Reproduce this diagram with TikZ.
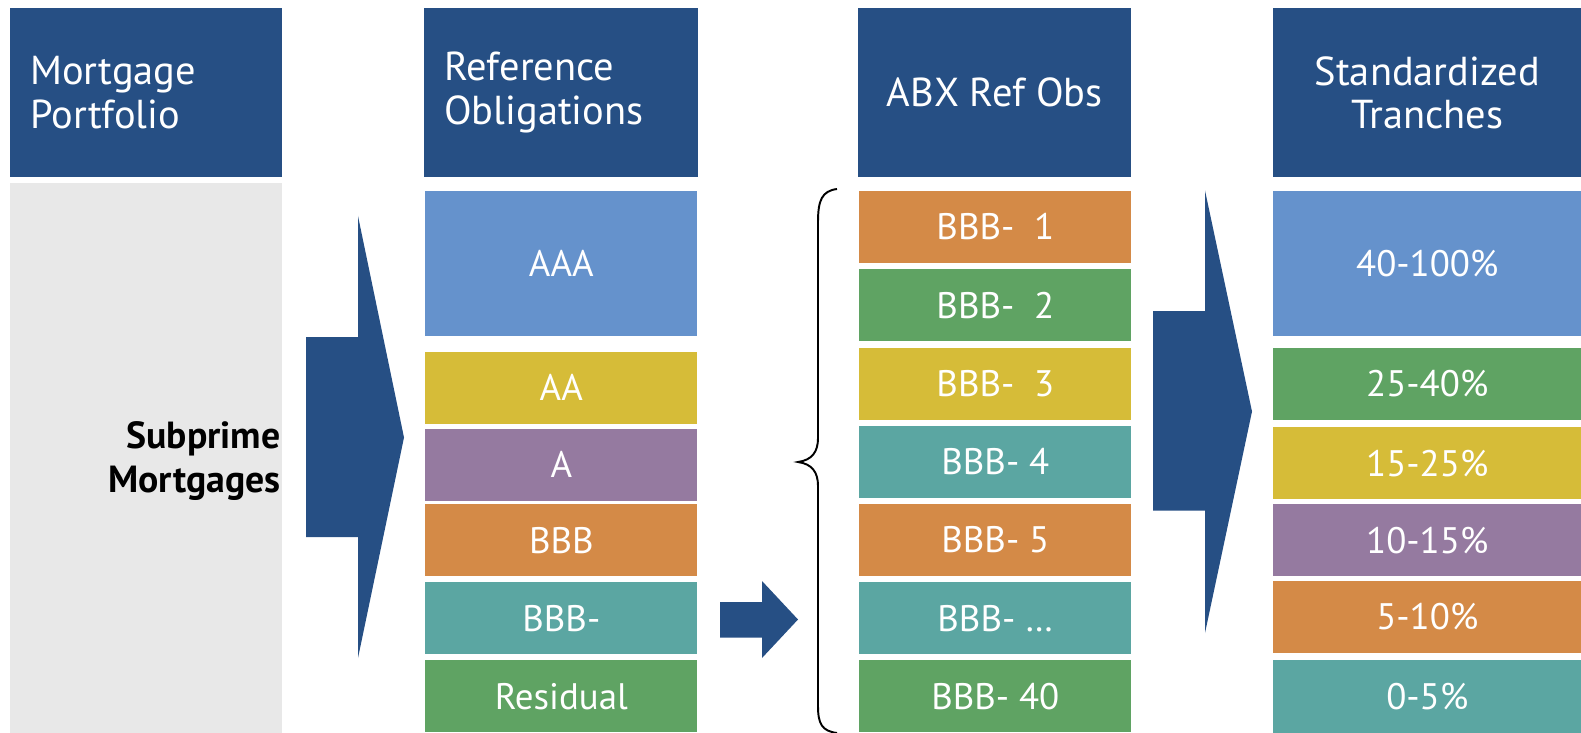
\documentclass[tikz,border=0pt]{standalone}
\usepackage{fontspec}
\setmainfont{PT Sans}
\definecolor{hdrblue}{RGB}{38,79,132}
\definecolor{poolgray}{RGB}{232,232,232}
\definecolor{aaablue}{RGB}{101,146,204}
\definecolor{aayellow}{RGB}{214,188,56}
\definecolor{apurple}{RGB}{149,122,160}
\definecolor{bbborange}{RGB}{212,138,71}
\definecolor{bbbteal}{RGB}{91,166,162}
\definecolor{resgreen}{RGB}{95,163,99}
\begin{document}
\begin{tikzpicture}[x=0.02cm, y=-0.02cm,
    head node/.style={rectangle, fill=hdrblue, text=white, anchor=north west, inner sep=0pt, minimum height=3.38cm, font=\fontsize{23}{25}\selectfont},
    tier node/.style={rectangle, text=white, anchor=north west, inner sep=0pt, minimum width=5.44cm, minimum height=1.44cm},
    wide tier/.style={tier node, minimum width=6.16cm}]
        \tikzstyle{every node}=[font=\fontsize{21}{25}\selectfont]
        \useasboundingbox (0,0) rectangle (1581,733);

          \node[head node, text width=4.64cm, inner xsep=0.4cm, align=left] (portfolio) at (10,8) {Mortgage\\Portfolio};
          \node[head node, text width=4.68cm, inner xsep=0.4cm, align=left] (refobs) at (424,8) {Reference\\Obligations};
          \node[head node, minimum width=5.46cm, align=center] (abx) at (858,8) {ABX Ref Obs};
          \node[head node, minimum width=6.16cm, align=center] (tranches) at (1273,8) {Standardized\\Tranches};

          \node[fill=poolgray, anchor=north west, inner sep=0pt, minimum width=5.44cm, minimum height=11cm] (pool) at (10,183) {};
          \node[anchor=east, align=right, inner sep=1pt, font=\fontsize{21.5}{25}\selectfont\bfseries] (subprime) at ([yshift=-0.05cm]pool.east) {Subprime\\Mortgages};

          \node[tier node, fill=aaablue, minimum height=2.9cm] (aaa) at (425,190.5) {AAA};
          \node[tier node, fill=aayellow] (aa) at (425,351.5) {AA};
          \node[tier node, fill=apurple] (a) at (425,428.5) {A};
          \node[tier node, fill=bbborange] (bbb) at (425,504) {BBB};
          \node[tier node, fill=bbbteal] (bbbm) at (425,582) {BBB-};
          \node[tier node, fill=resgreen] (residual) at (425,660) {Residual};

          \node[tier node, fill=bbborange] (abx1) at (859,190.5) {BBB-\ \ 1};
          \node[tier node, fill=resgreen] (abx2) at (859,269) {BBB-\ \ 2};
          \node[tier node, fill=aayellow] (abx3) at (859,347.5) {BBB-\ \ 3};
          \node[tier node, fill=bbbteal] (abx4) at (859,425.5) {BBB- 4};
          \node[tier node, fill=bbborange] (abx5) at (859,503.5) {BBB- 5};
          \node[tier node, fill=bbbteal] (abxdots) at (859,582) {BBB- \dots};
          \node[tier node, fill=resgreen] (abx40) at (859,660) {BBB- 40};

          \node[wide tier, fill=aaablue, minimum height=2.9cm] (t100) at (1273,190.5) {40-100\%};
          \node[wide tier, fill=resgreen] (t40) at (1273,347.5) {25-40\%};
          \node[wide tier, fill=aayellow] (t25) at (1273,427) {15-25\%};
          \node[wide tier, fill=apurple] (t15) at (1273,504) {10-15\%};
          \node[wide tier, fill=bbborange] (t10) at (1273,580.5) {5-10\%};
          \node[wide tier, fill=bbbteal, minimum height=1.46cm] (t5) at (1273,660) {0-5\%};

          \fill[hdrblue] (306,337) -- (358,337) -- (358,216) -- (404,437.5) -- (358,658) -- (358,537) -- (306,537) -- cycle;
          \fill[hdrblue] (720,602) -- (762,602) -- (762,581) -- (798,619.5) -- (762,658) -- (762,637.5) -- (720,637.5) -- cycle;
          \fill[hdrblue] (1153,311) -- (1205,311) -- (1205,190.5) -- (1252,411.5) -- (1205,633) -- (1205,510.5) -- (1153,510.5) -- cycle;

          \draw[line width=1.1pt] (837,189) .. controls (822,191) and (818,200) .. (818,222) -- (818,438)
            .. controls (818,452) and (812,460) .. (798,462) .. controls (812,464) and (818,472) .. (818,486)
            -- (818,706) .. controls (818,724) and (822,731) .. (837,733);

        \end{tikzpicture}
\end{document}
